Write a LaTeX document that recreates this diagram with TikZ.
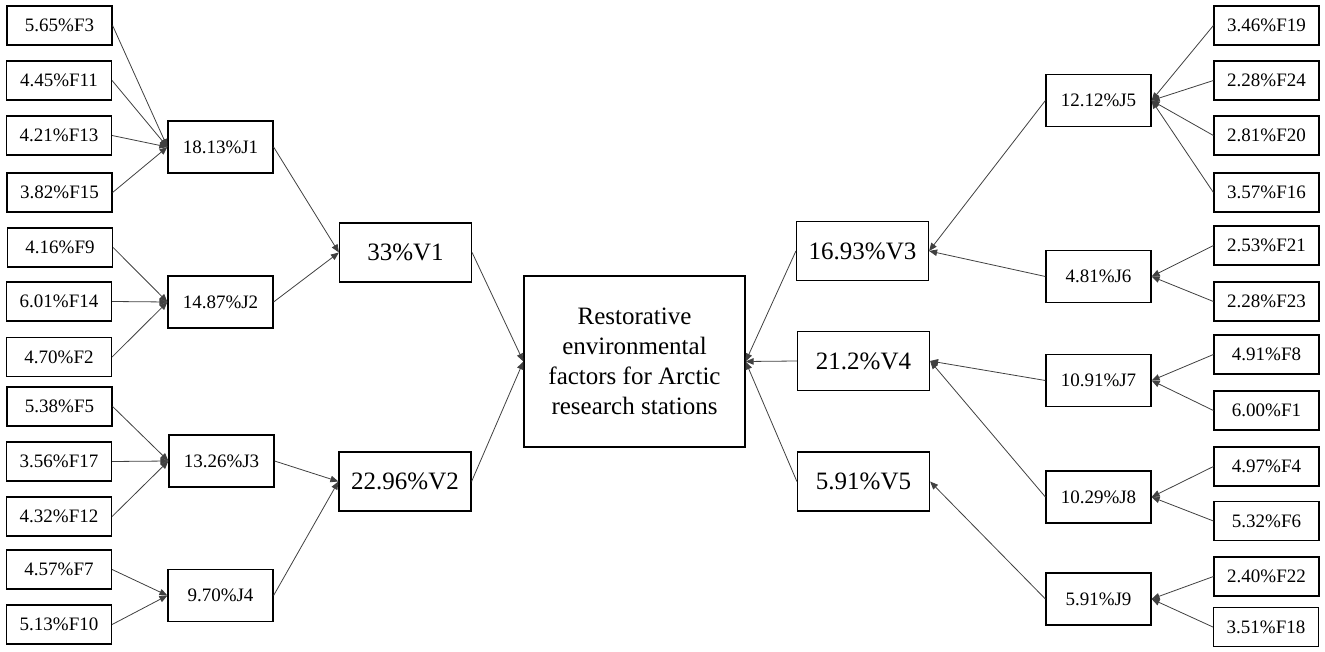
\documentclass[tikz,border=0pt]{standalone}
\usepackage{fontspec}
\setmainfont{Liberation Serif}
\usepackage{tikz}
\usetikzlibrary{arrows.meta}

\begin{document}
\begin{tikzpicture}[x=1pt, y=-1pt,
    fbox/.style={draw, line width=1.2pt, inner sep=0pt, minimum width=105pt, minimum height=39pt, font=\fontsize{19}{23}\selectfont},
    jbox/.style={draw, line width=1.2pt, inner sep=0pt, minimum width=105pt, minimum height=52pt, font=\fontsize{19}{23}\selectfont},
    vbox/.style={draw, line width=1.2pt, inner sep=0pt, minimum width=132pt, minimum height=59pt, font=\fontsize{25}{30}\selectfont},
    link/.style={-{Triangle[length=8pt, width=6.5pt]}, draw=black!75, line width=0.8pt}]
      \useasboundingbox (0,0) rectangle (1325,652);
      \node[draw, line width=1.2pt, inner sep=0pt, minimum width=221pt, minimum height=171pt, align=center, font=\fontsize{25}{30}\selectfont] (goal) at (634.5,361.5) {Restorative\\environmental\\factors for Arctic\\research stations};
      % left half
      \node[vbox] (v1) at (405.5,252.5) {33\%V1};
      \node[vbox] (v2) at (405,481.5) {22.96\%V2};
      \node[jbox] (j1) at (220.5,147) {18.13\%J1};
      \node[jbox] (j2) at (220.5,302) {14.87\%J2};
      \node[jbox] (j3) at (221.5,461) {13.26\%J3};
      \node[jbox] (j4) at (220.5,595.5) {9.70\%J4};
      \node[fbox] (f3) at (59.5,25.5) {5.65\%F3};
      \node[fbox] (f11) at (59,80.5) {4.45\%F11};
      \node[fbox] (f13) at (59,135.5) {4.21\%F13};
      \node[fbox] (f15) at (59.5,192.5) {3.82\%F15};
      \node[fbox] (f9) at (60,247.5) {4.16\%F9};
      \node[fbox] (f14) at (59,301.5) {6.01\%F14};
      \node[fbox] (f2) at (59,357) {4.70\%F2};
      \node[fbox] (f5) at (59.5,406.5) {5.38\%F5};
      \node[fbox] (f17) at (59,461.5) {3.56\%F17};
      \node[fbox] (f12) at (59,516.5) {4.32\%F12};
      \node[fbox] (f7) at (59,569.5) {4.57\%F7};
      \node[fbox] (f10) at (59,624.5) {5.13\%F10};
      \draw[link] (f3.east) -- (j1.west);
      \draw[link] (f11.east) -- (j1.west);
      \draw[link] (f13.east) -- (j1.west);
      \draw[link] (f15.east) -- (j1.west);
      \draw[link] (f9.east) -- (j2.west);
      \draw[link] (f14.east) -- (j2.west);
      \draw[link] (f2.east) -- (j2.west);
      \draw[link] (f5.east) -- (j3.west);
      \draw[link] (f17.east) -- (j3.west);
      \draw[link] (f12.east) -- (j3.west);
      \draw[link] (f7.east) -- (j4.west);
      \draw[link] (f10.east) -- (j4.west);
      \draw[link] (j1.east) -- (v1.west);
      \draw[link] (j2.east) -- (v1.west);
      \draw[link] (j3.east) -- (v2.west);
      \draw[link] (j4.east) -- (v2.west);
      \draw[link] (v1.east) -- (goal.west);
      \draw[link] (v2.east) -- (goal.west);
      % right half
      \node[vbox] (v3) at (862.5,251) {16.93\%V3};
      \node[vbox] (v4) at (863.5,361) {21.2\%V4};
      \node[vbox] (v5) at (863.5,481.5) {5.91\%V5};
      \node[jbox] (j5) at (1098.5,100.5) {12.12\%J5};
      \node[jbox] (j6) at (1098.5,276.5) {4.81\%J6};
      \node[jbox] (j7) at (1098.5,380.5) {10.91\%J7};
      \node[jbox] (j8) at (1098.5,497) {10.29\%J8};
      \node[jbox] (j9) at (1098.5,599) {5.91\%J9};
      \node[fbox] (f19) at (1266.5,25.5) {3.46\%F19};
      \node[fbox] (f24) at (1266.5,80.5) {2.28\%F24};
      \node[fbox] (f20) at (1266.5,135.5) {2.81\%F20};
      \node[fbox] (f16) at (1266.5,192.5) {3.57\%F16};
      \node[fbox] (f21) at (1266.5,245.5) {2.53\%F21};
      \node[fbox] (f23) at (1266.5,301.5) {2.28\%F23};
      \node[fbox] (f8) at (1266.5,354.5) {4.91\%F8};
      \node[fbox] (f1) at (1266.5,410.5) {6.00\%F1};
      \node[fbox] (f4) at (1266.5,466.5) {4.97\%F4};
      \node[fbox] (f6) at (1266.5,521) {5.32\%F6};
      \node[fbox] (f22) at (1266.5,576.5) {2.40\%F22};
      \node[fbox] (f18) at (1266,627) {3.51\%F18};
      \draw[link] (f19.west) -- (j5.east);
      \draw[link] (f24.west) -- (j5.east);
      \draw[link] (f20.west) -- (j5.east);
      \draw[link] (f16.west) -- (j5.east);
      \draw[link] (f21.west) -- (j6.east);
      \draw[link] (f23.west) -- (j6.east);
      \draw[link] (f8.west) -- (j7.east);
      \draw[link] (f1.west) -- (j7.east);
      \draw[link] (f4.west) -- (j8.east);
      \draw[link] (f6.west) -- (j8.east);
      \draw[link] (f22.west) -- (j9.east);
      \draw[link] (f18.west) -- (j9.east);
      \draw[link] (j5.west) -- (v3.east);
      \draw[link] (j6.west) -- (v3.east);
      \draw[link] (j7.west) -- (v4.east);
      \draw[link] (j8.west) -- (v4.east);
      \draw[link] (j9.west) -- (v5.east);
      \draw[link] (v3.west) -- (goal.east);
      \draw[link] (v4.west) -- (goal.east);
      \draw[link] (v5.west) -- (goal.east);
    \end{tikzpicture}
\end{document}
